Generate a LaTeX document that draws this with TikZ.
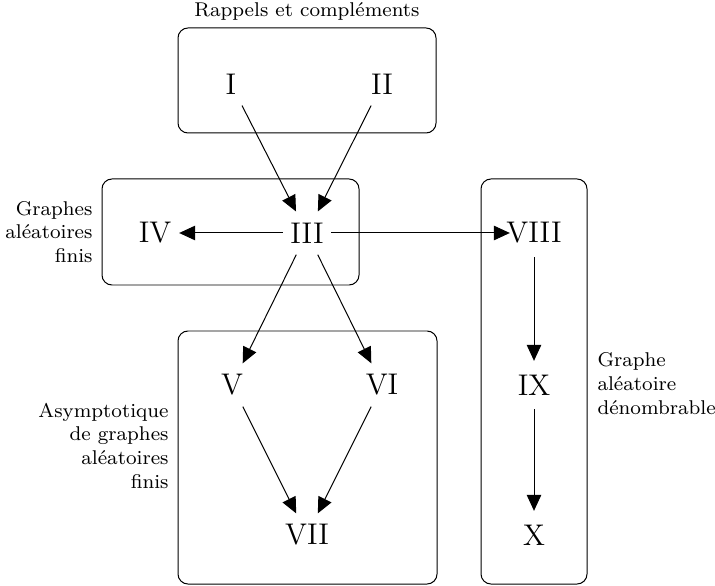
\documentclass[tikz,border=0pt]{standalone}
\usetikzlibrary{arrows.meta}
\tikzset{
  nd/.style={circle, minimum size=19pt, inner sep=0pt, font=\large},
  grp/.style={draw, rounded corners=4pt, line width=0.4pt},
  lab/.style={font=\footnotesize, inner sep=0pt},
  arr/.style={-{Triangle[length=6.4pt,width=5.8pt]}, line width=0.4pt},
}
\begin{document}
\begin{tikzpicture}[x=0.4015pt,y=-0.4015pt]
\useasboundingbox (0,0) rectangle (715,586);
% groups
\draw[grp] (178,28) rectangle (436,133);
\draw[grp] (102,179) rectangle (359,285);
\draw[grp] (178,331) rectangle (437,584);
\draw[grp] (481,179) rectangle (587,584);
% nodes
\node[nd] (n1) at (231,84) {\makebox[0pt]{I}};
\node[nd] (n2) at (382,84) {\makebox[0pt]{II}};
\node[nd] (n3) at (307,233) {\makebox[0pt]{III}};
\node[nd] (n4) at (155,233) {\makebox[0pt]{IV}};
\node[nd] (n5) at (232,385) {\makebox[0pt]{V}};
\node[nd] (n6) at (382,385) {\makebox[0pt]{VI}};
\node[nd] (n7) at (307,535) {\makebox[0pt]{VII}};
\node[nd] (n8) at (534,233) {\makebox[0pt]{VIII}};
\node[nd] (n9) at (534,385) {\makebox[0pt]{IX}};
\node[nd] (n10) at (534,535) {\makebox[0pt]{X}};
% labels
\node[lab, anchor=base] (lr) at (307,17) {Rappels et compléments};
\node[lab, anchor=east, align=right] (lg) at (93,232) {Graphes\\aléatoires\\finis};
\node[lab, anchor=east, align=right] (la) at (169,445.5) {Asymptotique\\de graphes\\aléatoires\\finis};
\node[lab, anchor=west, align=left] (ld) at (597,383.5) {Graphe\\aléatoire\\dénombrable};
% edges
\draw[arr] (n1) -- (n3);
\draw[arr] (n2) -- (n3);
\draw[arr] (n3) -- (n4);
\draw[arr] (n3) -- (n8);
\draw[arr] (n3) -- (n5);
\draw[arr] (n3) -- (n6);
\draw[arr] (n5) -- (n7);
\draw[arr] (n6) -- (n7);
\draw[arr] (n8) -- (n9);
\draw[arr] (n9) -- (n10);
\end{tikzpicture}
\end{document}
